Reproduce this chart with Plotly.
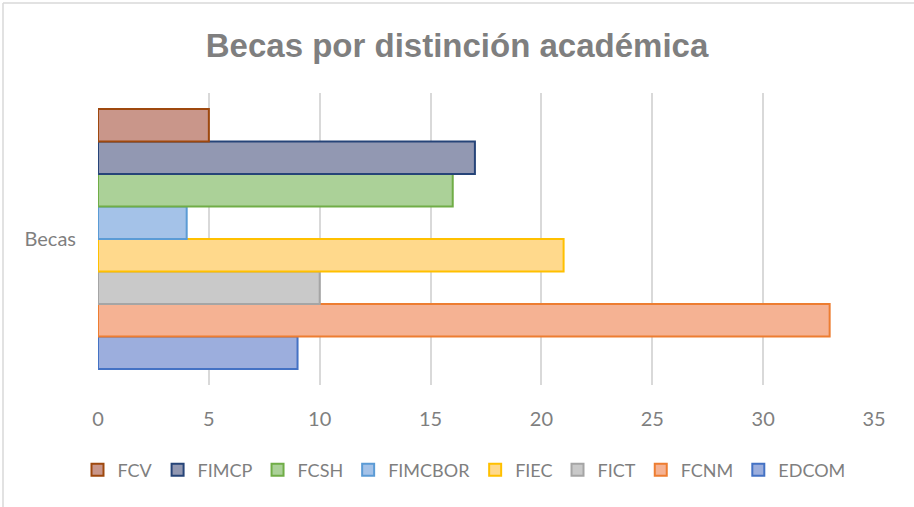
import plotly.graph_objects as go

# One category, eight faculties (drawn bottom to top in this order)
category = ["Becas"]
faculties = ["EDCOM", "FCNM", "FICT", "FIEC", "FIMCBOR", "FCSH", "FIMCP", "FCV"]
becas = [9, 33, 10, 21, 4, 16, 17, 5]
fills = ["#9CAEDD", "#F5B293", "#C9C9C9", "#FFD98C", "#A4C2E8", "#ABD198", "#9298B2", "#C9968A"]
lines = ["#4472C4", "#ED7D31", "#A5A5A5", "#FFC000", "#5B9BD5", "#70AD47", "#264478", "#9E480E"]
x_ticks = [0, 5, 10, 15, 20, 25, 30, 35]

fig = go.Figure()
for name, val, fc, lc in zip(faculties, becas, fills, lines):
    fig.add_trace(go.Bar(
        y=category, x=[val], name=name, orientation="h",
        marker=dict(color=fc, line=dict(color=lc, width=2)),
    ))

font = "Lato, Open Sans, sans-serif"
L, R, T, B = 98, 40, 93, 122
pw, ph = 914 - L - R, 507 - T - B
fig.update_layout(
    width=914, height=507,
    barmode="group", bargap=0.11, bargroupgap=0,
    plot_bgcolor="white", paper_bgcolor="white",
    margin=dict(l=L, r=R, t=T, b=B, autoexpand=False),
    title=dict(text="<b>Becas por distinción académica</b>", x=0.5, xanchor="center",
               y=1 - 45 / 507, yanchor="middle",
               font=dict(family="Liberation Sans, Arial, sans-serif", size=33, color="#7F7F7F")),
    legend=dict(orientation="h", traceorder="reversed", xref="container", x=464 / 914,
                xanchor="center", yref="container", y=1 - 470 / 507, yanchor="middle",
                font=dict(family=font, size=18, color="#7F7F7F"), itemwidth=30),
    showlegend=True,
)
fig.update_xaxes(range=[0, 35], tickvals=x_ticks, showgrid=True, gridcolor="#D9D9D9", gridwidth=1.5,
                 zeroline=False, showline=False, ticks="", automargin=False,
                 tickfont=dict(family=font, size=20, color="#7F7F7F"), ticklabelstandoff=20)
fig.update_yaxes(showgrid=False, zeroline=False, showline=False, ticks="", automargin=False,
                 tickfont=dict(family=font, size=20, color="#7F7F7F"), ticklabelstandoff=21)

# thin frame seen along the top and left of the original
fx, fy = (3 - L) / pw, (T + ph - 3) / ph
fig.add_shape(type="line", xref="paper", yref="paper", x0=fx, x1=1.2, y0=fy, y1=fy,
              line=dict(color="#D9D9D9", width=1.5))
fig.add_shape(type="line", xref="paper", yref="paper", x0=fx, x1=fx, y0=-0.6, y1=fy,
              line=dict(color="#D9D9D9", width=1.5))

# drop the browser's default body margin so the figure sits at the page corner
fig.write_html("out.html", config={"displayModeBar": False},
               post_script="document.body.style.margin='0px';")
